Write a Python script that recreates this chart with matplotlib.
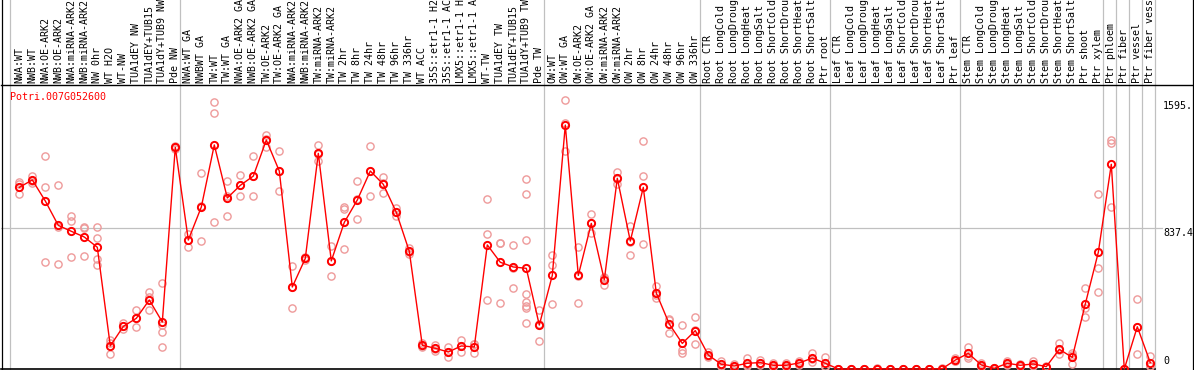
import matplotlib
matplotlib.use('Agg')
import matplotlib.pyplot as plt
from matplotlib.lines import Line2D
from matplotlib.transforms import blended_transform_factory

gene = 'Potri.007G052600'

labels = [
    'NWA:WT', 'NWB:WT', 'NWA:OE-ARK2', 'NWB:OE-ARK2', 'NWA:miRNA-ARK2', 'NWB:miRNA-ARK2',
    'NW 0hr', 'WT H2O', 'WT-NW', 'TUA1dEY NW', 'TUA1dEY+TUB15', 'TUA1dY+TUB9 NW', 'Pde NW',
    'NWA:WT GA', 'NWBWT GA', 'TW:WT', 'TW:WT GA', 'NWA:OE-ARK2 GA', 'NWB:OE-ARK2 GA',
    'TW:OE-ARK2', 'TW:OE-ARK2 GA', 'NWA:miRNA-ARK2', 'NWB:miRNA-ARK2', 'TW:miRNA-ARK2',
    'TW:miRNA-ARK2', 'TW 2hr', 'TW 8hr', 'TW 24hr', 'TW 48hr', 'TW 96hr', 'TW 336hr',
    'WT ACC', '35S::etr1-1 H2O', '35S::etr1-1 ACC', 'LMX5::etr1-1 H2O', 'LMX5::etr1-1 ACC',
    'WT-TW', 'TUA1dEY TW', 'TUA1dEY+TUB15', 'TUA1dY+TUB9 TW', 'Pde TW',
    'OW:WT', 'OW:WT GA', 'OW:OE-ARK2', 'OW:OE-ARK2 GA', 'OW:miRNA-ARK2', 'OW:miRNA-ARK2',
    'OW 2hr', 'OW 8hr', 'OW 24hr', 'OW 48hr', 'OW 96hr', 'OW 336hr',
    'Root CTR', 'Root LongCold', 'Root LongDrought', 'Root LongHeat', 'Root LongSalt',
    'Root ShortCold', 'Root ShortDrought', 'Root ShortHeat', 'Root ShortSalt', 'Ptr root',
    'Leaf CTR', 'Leaf LongCold', 'Leaf LongDrought', 'Leaf LongHeat', 'Leaf LongSalt',
    'Leaf ShortCold', 'Leaf ShortDrought', 'Leaf ShortHeat', 'Leaf ShortSalt', 'Ptr leaf',
    'Stem CTR', 'Stem LongCold', 'Stem LongDrought', 'Stem LongHeat', 'Stem LongSalt',
    'Stem ShortCold', 'Stem ShortDrought', 'Stem ShortHeat', 'Stem ShortSalt',
    'Ptr shoot', 'Ptr xylem', 'Ptr phloem', 'Ptr fiber', 'Ptr vessel', 'Ptr fiber vessel',
]

# last column index of each sample group
group_ends = [12, 40, 52, 62, 72, 83, 84, 85, 86, 87]

means = [
    1079, 1123, 998, 853, 818, 784, 723, 137, 253, 301, 410, 279, 1317,
    766, 962, 1331, 1016, 1091, 1146, 1360, 1176, 487, 657, 1281, 642, 871, 1004,
    1176, 1097, 931, 699, 141, 123, 101, 137, 131, 737, 634, 606, 598, 261,
    556, 1449, 556, 865, 529, 1133, 760, 1079, 451, 267, 152, 228,
    83, 28, 18, 34, 38, 22, 22, 36, 65, 34,
    0, 0, 0, 2, 0, 0, 0, 0, 2, 53,
    93, 24, 4, 34, 22, 30, 14, 117, 69, 386, 693,
    1216, 0, 251, 38,
]

reps = [
    [1109, 1097, 1041], [1146, 1107, 1116], [1265, 1079, 634], [1091, 624, 844],
    [909, 881, 665], [843, 838, 671], [843, 776, 651, 618], [172, 87, 152],
    [271, 253, 235], [350, 251, 302], [455, 350, 425], [511, 259, 218, 131],
    [1325, 1317, 1309],
    [802, 727, 769], [1162, 758, 966], [1585, 1519, 871], [1115, 907, 1026],
    [1152, 1030, 1091], [1265, 1026, 1147], [1390, 1321, 1369], [1295, 1057, 1176],
    [612, 360, 489], [665, 657, 649], [1331, 1236, 1276], [731, 552, 643],
    [964, 952, 713], [1115, 889, 1008], [1325, 1026, 1177], [1139, 1045, 1107],
    [954, 909, 930], [719, 683, 695], [152, 133, 138], [141, 109, 119],
    [129, 73, 101], [172, 139, 101], [149, 93, 151], [1008, 802, 410],
    [750, 746, 390], [737, 479, 602], [1129, 1040, 766, 446, 396, 376, 360, 273],
    [350, 166, 267],
    [677, 616, 384], [1595, 1293, 1459], [725, 390, 553], [921, 806, 868],
    [548, 501, 538], [1170, 1099, 1130], [849, 675, 756], [1354, 1144, 741],
    [493, 420, 440], [295, 216, 290], [259, 113, 97], [307, 147, 230],
    [103, 73, 75], [49, 20, 15], [30, 14, 10], [63, 22, 17], [53, 36, 25],
    [34, 18, 14], [34, 18, 14], [50, 34, 24], [97, 40, 58], [73, 20, 9],
    [0, 0, 0], [0, 0, 0], [0, 0, 0], [4, 2, 0], [0, 0, 0],
    [0, 0, 0], [0, 0, 0], [0, 0, 0], [4, 0, 2], [63, 50, 46],
    [133, 79, 67], [38, 20, 14], [6, 4, 2], [50, 28, 24], [30, 20, 16],
    [50, 24, 16], [20, 12, 10], [152, 89, 110], [81, 30, 96], [479, 360, 307],
    [1038, 598, 455],
    [1360, 1340, 960], [0, 0, 0], [414, 87, 252], [77, 20, 17],
]

y_ticks = [1595, 837.4, 0]
y_tick_text = ['1595.', '837.4', '0']

plt.rcParams['font.family'] = 'DejaVu Sans Mono'
plt.rcParams['font.size'] = 7.2

W, H = 1194, 370
fig = plt.figure(figsize=(W / 100, H / 100), dpi=100)
ax = fig.add_axes([1 / W, 1 / H, 1191 / W, 284 / H])

# pixel x = 19.3 + 13 * column
x0 = (1 - 19.3) / 13
x1 = (1192 - 19.3) / 13
ax.set_xlim(x0, x1)
ax.set_ylim(0, 1687)
ax.set_xticks([])
ax.set_yticks([])
for s in ['left', 'right', 'bottom']:
    ax.spines[s].set_visible(False)
ax.spines['top'].set_linewidth(1.0)

grid_c = '#c0c0c0'
top_frac = 369 / 284
ax.axvline(x0 + 0.69, ymin=0, ymax=top_frac, color=grid_c, lw=0.9, clip_on=False, zorder=0)
for g in group_ends:
    ax.axvline(g + 0.36, ymin=0, ymax=top_frac, color=grid_c, lw=0.9, clip_on=False, zorder=0)
ax.plot([x0, 87.9], [837.4, 837.4], color=grid_c, lw=0.9, zorder=0)
ax.plot([x0, 87.36], [0, 0], color='black', lw=1.2, clip_on=False, zorder=1)

fig.add_artist(Line2D([1.5 / W, 1.5 / W], [0, 1], color='black', lw=0.9))
fig.add_artist(Line2D([1192.5 / W, 1192.5 / W], [0, 1], color='black', lw=0.9))

xs = list(range(len(means)))
for i, r in enumerate(reps):
    ax.plot([i] * len(r), r, 'o', mfc='none', mec='#ee9a9a', ms=5.2, mew=1.0,
            clip_on=False, zorder=2)
ax.plot(xs, means, '-', color='red', lw=1.0, zorder=3, clip_on=False)
ax.plot(xs, means, 'o', mfc='none', mec='red', ms=5.2, mew=1.4, zorder=4, clip_on=False)

# column labels above the panel
tr = blended_transform_factory(ax.transData, fig.transFigure)
for i, lab in enumerate(labels):
    fig.text(i, 1 - 83 / H, lab, transform=tr, rotation=90, ha='center', va='bottom',
             color='black')

fig.text(10 / W, 1 - 92 / H, gene, color='red', ha='left', va='top')

lx = (1163 - 19.3) / 13
ax.text(lx, 1590, y_tick_text[0], ha='left', va='top', color='black')
ax.text(lx, y_ticks[1], y_tick_text[1], ha='left', va='top', color='black')
ax.text(lx, 18, y_tick_text[2], ha='left', va='bottom', color='black')

fig.savefig('out.png', dpi=100)
